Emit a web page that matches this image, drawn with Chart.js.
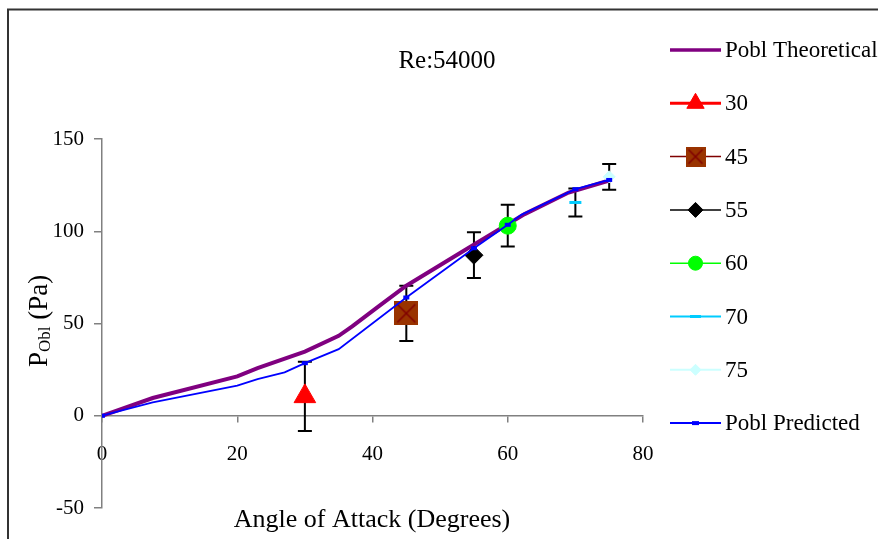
<!DOCTYPE html>
<html>
<head>
<meta charset="utf-8">
<script src="https://cdn.jsdelivr.net/npm/chart.js@4.4.1/dist/chart.umd.min.js"></script>
<style>
  html, body { margin: 0; padding: 0; background: #fff; }
  #wrap { width: 878px; height: 539px; position: relative; }
</style>
</head>
<body>
<div id="wrap"><canvas id="chart"></canvas></div>
<script>
// values
const chartTitle = 'Re:54000';
const xTitle = 'Angle of Attack (Degrees)';
const xTicks = [0, 20, 40, 60, 80];
const yTicks = [-50, 0, 50, 100, 150];

const theoAngle = [0, 7.5, 20, 23, 30, 35, 37, 41, 45, 53.5, 62.5, 64, 69, 75];
const theoP = [0, 9.6, 21.3, 25.8, 34.8, 43.3, 48.5, 59.6, 70.5, 89.4, 109.3, 112, 121, 127.5];

const predAngle = [0, 7.5, 20, 23, 27, 30, 35, 45, 55, 60, 62, 70, 75];
const predP = [0, 7.2, 16.3, 19.9, 23.5, 28.5, 36.1, 64.1, 90.8, 103.5, 108.9, 122.8, 127.8];

const expLabels = ['30', '45', '55', '60', '70', '75'];
const expAngle = [30, 45, 55, 60, 70, 75];
const expP = [10.5, 55.5, 87, 103, 115.6, 129.5];
const expErr = [18.8, 15, 12.4, 11.3, 7.6, 7];

const FONT = '"Liberation Serif", "Times New Roman", serif';

// brown square with a dark red cross, used as a marker
function boxCross(size) {
  const c = document.createElement('canvas');
  c.width = size; c.height = size;
  const g = c.getContext('2d');
  g.fillStyle = '#993300';
  g.fillRect(0, 0, size, size);
  g.strokeStyle = '#800000';
  g.lineWidth = 1.5;
  g.beginPath();
  g.moveTo(3, 3); g.lineTo(size - 3, size - 3);
  g.moveTo(size - 3, 3); g.lineTo(3, size - 3);
  g.stroke();
  return c;
}

const pts = (xs, ys) => xs.map((x, i) => ({ x: x, y: ys[i] }));

const expStyles = [
  { style: 'triangle', color: '#ff0000', r: 12.5, lr: 10, line: '#ff0000', lw: 3 },
  { style: boxCross(24), color: '#993300', r: 12, lr: 10, line: '#800000', lw: 1.5, legendImg: boxCross(20) },
  { style: 'rectRot', color: '#000000', r: 9, lr: 7.5, line: '#000000', lw: 1.5 },
  { style: 'circle', color: '#00ff00', r: 8.5, lr: 7, line: '#00ff00', lw: 1.5 },
  { style: 'line', color: '#00ccff', r: 6, lr: 5.5, line: '#00ccff', lw: 2, bw: 3 },
  { style: 'rectRot', color: '#ccffff', r: 6, lr: 5.5, line: '#ccffff', lw: 2 }
];

const datasets = [{
  label: 'Pobl Theoretical',
  data: pts(theoAngle, theoP),
  borderColor: '#800080',
  borderWidth: 4,
  pointRadius: 0,
  order: 3,
  legendLine: '#800080', legendWidth: 3.5
}];

expLabels.forEach((lab, i) => {
  const s = expStyles[i];
  datasets.push({
    label: lab,
    data: [{ x: expAngle[i], y: expP[i] }],
    showLine: false,
    pointStyle: s.style,
    pointRadius: s.r,
    pointBackgroundColor: s.color,
    pointBorderColor: s.color,
    pointBorderWidth: s.bw || 1,
    order: 2,
    legendLine: s.line, legendWidth: s.lw,
    legendStyle: s.legendImg || s.style, legendRadius: s.lr
  });
});

datasets.push({
  label: 'Pobl Predicted',
  data: pts(predAngle, predP),
  borderColor: '#0000ff',
  borderWidth: 1.8,
  pointStyle: 'line',
  pointRadius: c => (c.raw && (c.raw.x === 0 || expAngle.includes(c.raw.x))) ? 3 : 0,
  pointBorderWidth: 4,
  pointBorderColor: '#0000ff',
  pointBackgroundColor: '#0000ff',
  order: 1,
  legendLine: '#0000ff', legendWidth: 2,
  legendStyle: 'line', legendRadius: 3.5, legendBw: 4
});

const errorBars = {
  id: 'errorBars',
  beforeDatasetsDraw(chart) {
    const { ctx, scales: { x, y } } = chart;
    ctx.save();
    ctx.strokeStyle = '#000';
    ctx.lineWidth = 2;
    expAngle.forEach((a, i) => {
      const px = x.getPixelForValue(a);
      const top = y.getPixelForValue(expP[i] + expErr[i]);
      const bot = y.getPixelForValue(expP[i] - expErr[i]);
      ctx.beginPath();
      ctx.moveTo(px, top); ctx.lineTo(px, bot);
      ctx.moveTo(px - 7, top); ctx.lineTo(px + 7, top);
      ctx.moveTo(px - 7, bot); ctx.lineTo(px + 7, bot);
      ctx.stroke();
    });
    ctx.restore();
  }
};

const decorations = {
  id: 'decorations',
  beforeDraw(chart) {
    const ctx = chart.ctx;
    ctx.save();
    ctx.strokeStyle = '#333';
    ctx.lineWidth = 2;
    ctx.beginPath();
    ctx.moveTo(8, 560); ctx.lineTo(8, 9.5); ctx.lineTo(900, 9.5);
    ctx.stroke();
    ctx.restore();
  },
  afterDraw(chart) {
    const ctx = chart.ctx;
    ctx.save();
    ctx.fillStyle = '#000';
    ctx.textBaseline = 'alphabetic';
    ctx.textAlign = 'center';
    ctx.font = '25px ' + FONT;
    ctx.fillText(chartTitle, 447, 68);
    ctx.font = '26px ' + FONT;
    ctx.fillText(xTitle, 372, 527);

    // y title: P with subscript Obl, then (Pa)
    ctx.translate(47, 321);
    ctx.rotate(-Math.PI / 2);
    ctx.textAlign = 'left';
    const big = '27px ' + FONT, small = '17px ' + FONT;
    ctx.font = big; const wP = ctx.measureText('P').width;
    ctx.font = small; const wS = ctx.measureText('Obl').width;
    ctx.font = big; const wR = ctx.measureText(' (Pa)').width;
    let tx = -(wP + wS + wR) / 2;
    ctx.font = big; ctx.fillText('P', tx, 0); tx += wP;
    ctx.font = small; ctx.fillText('Obl', tx, 3); tx += wS;
    ctx.font = big; ctx.fillText(' (Pa)', tx, 0);
    ctx.restore();

    // legend
    ctx.save();
    chart.data.datasets.forEach((ds, i) => {
      const cy = 50 + i * 53.3;
      ctx.strokeStyle = ds.legendLine;
      ctx.lineWidth = ds.legendWidth;
      ctx.beginPath();
      ctx.moveTo(670, cy); ctx.lineTo(721, cy);
      ctx.stroke();
      if (ds.legendStyle) {
        ctx.fillStyle = ds.pointBackgroundColor;
        ctx.strokeStyle = ds.pointBorderColor;
        ctx.lineWidth = ds.legendBw || (typeof ds.pointBorderWidth === 'number' ? ds.pointBorderWidth : 1);
        Chart.helpers.drawPoint(ctx, {
          pointStyle: ds.legendStyle, radius: ds.legendRadius, rotation: 0,
          borderWidth: ctx.lineWidth
        }, 695.5, cy);
      }
      ctx.fillStyle = '#000';
      ctx.font = '23px ' + FONT;
      ctx.textAlign = 'left';
      ctx.textBaseline = 'middle';
      ctx.fillText(ds.label, 725, cy + 1);
    });
    ctx.restore();
  }
};

new Chart(document.getElementById('chart'), {
  type: 'line',
  data: { datasets: datasets },
  options: {
    responsive: true,
    maintainAspectRatio: false,
    animation: false,
    layout: { padding: { left: 0, top: 139, right: 235, bottom: 31 } },
    plugins: { legend: { display: false }, title: { display: false }, tooltip: { enabled: false } },
    scales: {
      x: {
        type: 'linear',
        position: { y: 0 },
        min: 0, max: 80,
        afterBuildTicks: s => { s.ticks = xTicks.map(v => ({ value: v })); },
        ticks: { color: '#000', font: { family: FONT, size: 21 }, padding: 20, maxRotation: 0 },
        grid: { drawOnChartArea: false, drawTicks: true, tickLength: 6, color: '#808080', lineWidth: 1.5 },
        border: { color: '#808080', width: 1.5 }
      },
      y: {
        type: 'linear',
        position: 'left',
        min: -50, max: 150,
        afterFit: s => { s.width = 102; },
        afterBuildTicks: s => { s.ticks = yTicks.map(v => ({ value: v })); },
        ticks: { color: '#000', font: { family: FONT, size: 21 }, padding: 10 },
        grid: { drawOnChartArea: false, drawTicks: true, tickLength: 8, color: '#808080', lineWidth: 1.5 },
        border: { color: '#808080', width: 1.5 }
      }
    }
  },
  plugins: [errorBars, decorations]
});
</script>
</body>
</html>
